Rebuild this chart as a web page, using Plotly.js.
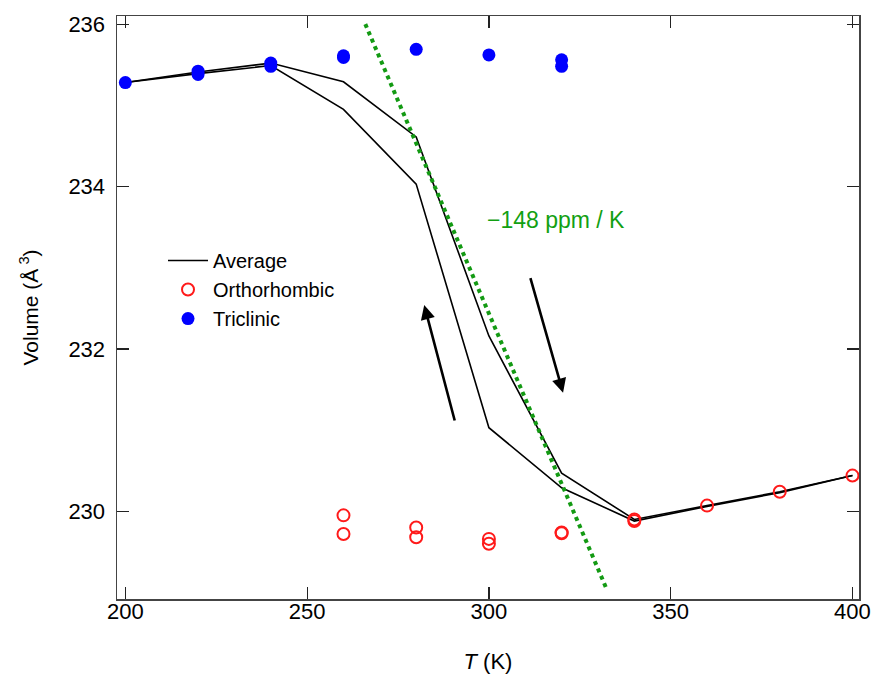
<!DOCTYPE html>
<html>
<head>
<meta charset="utf-8">
<script src="https://cdn.plot.ly/plotly-3.0.1.min.js"></script>
<style>html,body{margin:0;padding:0;background:#fff}#chart{width:874px;height:675px}</style>
</head>
<body>
<div id="chart"></div>
<script>
// Average volume, cooling branch (upper) and heating branch (lower)
var avgT = [200, 220, 240, 260, 280, 300, 320, 340, 360, 380, 400];
var avgCoolV = [235.28, 235.41, 235.52, 235.29, 234.61, 232.16, 230.47, 229.90, 230.07, 230.24, 230.44];
var avgHeatV = [235.28, 235.39, 235.49, 234.95, 234.03, 231.03, 230.29, 229.88, 230.06, 230.23, 230.44];

// Orthorhombic phase
var orthoT = [260, 260, 280, 280, 300, 300, 320, 320, 340, 340, 360, 380, 400];
var orthoV = [229.95, 229.72, 229.80, 229.68, 229.66, 229.60, 229.74, 229.73, 229.90, 229.88, 230.07, 230.24, 230.44];

// Triclinic phase
var triT = [200, 220, 220, 240, 240, 260, 260, 280, 300, 320, 320];
var triV = [235.28, 235.42, 235.38, 235.52, 235.48, 235.61, 235.59, 235.69, 235.62, 235.56, 235.48];

// Fit line (-148 ppm/K guide)
var fitT = [266.0, 332.5];
var fitV = [236.0, 229.03];

// Arrows: [tailT, tailV, headT, headV]
var arrowUp = [290.7, 231.10, 282.2, 232.54];
var arrowDown = [311.3, 232.89, 320.4, 231.46];

var slopeLabel = '\u2212148 ppm / K';
var slopePos = [318.5, 233.59];

var FONT = 'Liberation Sans, Arial, Helvetica, sans-serif';

var traces = [
  {x: avgT, y: avgCoolV, mode: 'lines', name: 'Average',
   line: {color: '#000', width: 1.6}, showlegend: true},
  {x: avgT, y: avgHeatV, mode: 'lines', name: 'Average',
   line: {color: '#000', width: 1.6}, showlegend: false},
  {x: fitT, y: fitV, mode: 'lines', showlegend: false,
   line: {color: '#139a13', width: 4, dash: 'dot'}},
  {x: orthoT, y: orthoV, mode: 'markers', name: 'Orthorhombic',
   marker: {symbol: 'circle-open', size: 12, color: '#ff1a1a', line: {width: 2, color: '#ff1a1a'}}},
  {x: triT, y: triV, mode: 'markers', name: 'Triclinic',
   marker: {symbol: 'circle', size: 13, color: '#0000ff'}}
];

function arrow(a) {
  return {x: a[2], y: a[3], ax: a[0], ay: a[1], xref: 'x', yref: 'y', axref: 'x', ayref: 'y',
          showarrow: true, arrowhead: 2, arrowsize: 1.1, arrowwidth: 2.6, arrowcolor: '#000', text: ''};
}

var axisCommon = {
  showgrid: false, zeroline: false, showline: true, linecolor: '#444', linewidth: 1.5,
  mirror: 'ticks', ticks: 'inside', ticklen: 12, tickwidth: 1.2, tickcolor: '#222',
  tickfont: {family: FONT, size: 22, color: '#000'}
};

var layout = {
  width: 874, height: 675,
  margin: {l: 117, r: 15, t: 16, b: 76},
  paper_bgcolor: '#fff', plot_bgcolor: '#fff',
  xaxis: Object.assign({}, axisCommon, {
    range: [197.7, 401.8], tickvals: [200, 250, 300, 350, 400],
    ticklabelstandoff: -8,
    title: {text: '<i>T</i> (K)', font: {family: FONT, size: 22, color: '#000'}, standoff: 30}
  }),
  yaxis: Object.assign({}, axisCommon, {
    range: [228.92, 236.1], tickvals: [230, 232, 234, 236],
    ticklabelstandoff: 6,
    title: {text: 'Volume (Å<sup> 3</sup>)', font: {family: FONT, size: 21, color: '#000'}, standoff: 24}
  }),
  legend: {x: 0.062, y: 0.614, xanchor: 'left', yanchor: 'top', bgcolor: 'rgba(0,0,0,0)',
           font: {family: FONT, size: 20, color: '#000'},
           tracegroupgap: 0, itemwidth: 40},
  annotations: [
    arrow(arrowUp), arrow(arrowDown),
    {x: slopePos[0], y: slopePos[1], xref: 'x', yref: 'y', text: slopeLabel, showarrow: false,
     font: {family: FONT, size: 23, color: '#12a012'}}
  ]
};

Plotly.newPlot('chart', traces, layout, {displayModeBar: false, staticPlot: true});
</script>
</body>
</html>
